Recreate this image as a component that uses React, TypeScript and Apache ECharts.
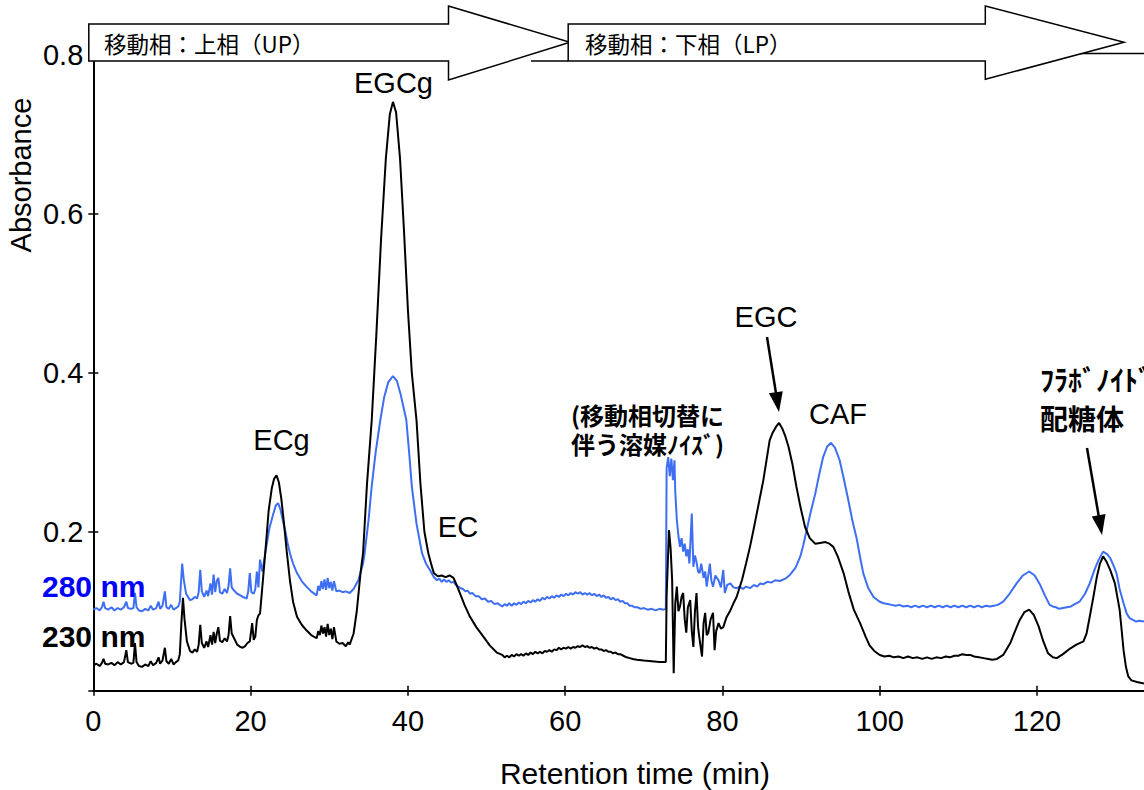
import React, { useEffect, useRef } from "react";
import * as echarts from "echarts";

// Retention time (min) / absorbance pairs
const trace230: [number, number][] = [
  [0.0,0.032],[0.4,0.034],[0.8,0.031],[1.1,0.035],[1.3,0.040],[1.5,0.034],[1.9,0.033],[2.3,0.035],[2.7,0.032],[3.1,0.036],
  [3.5,0.033],[3.9,0.036],[4.2,0.051],[4.4,0.036],[4.8,0.034],[5.1,0.035],[5.3,0.060],[5.5,0.036],[5.8,0.031],[6.2,0.030],
  [6.6,0.033],[7.0,0.031],[7.3,0.037],[7.6,0.032],[8.0,0.035],[8.3,0.042],[8.5,0.034],[8.8,0.038],[9.1,0.054],[9.3,0.037],
  [9.6,0.034],[9.9,0.040],[10.2,0.033],[10.5,0.036],[10.8,0.038],[11.0,0.046],[11.2,0.085],[11.4,0.117],[11.6,0.090],[11.9,0.062],
  [12.3,0.050],[12.6,0.048],[12.9,0.052],[13.2,0.049],[13.4,0.058],[13.6,0.083],[13.8,0.060],[14.1,0.054],[14.4,0.062],[14.6,0.055],
  [14.9,0.070],[15.1,0.058],[15.3,0.074],[15.5,0.060],[15.7,0.072],[15.9,0.080],[16.1,0.063],[16.4,0.061],[16.7,0.066],[17.0,0.062],
  [17.2,0.070],[17.4,0.094],[17.6,0.072],[17.9,0.066],[18.3,0.058],[18.7,0.055],[19.0,0.054],[19.3,0.056],[19.6,0.060],[19.9,0.062],
  [20.2,0.085],[20.4,0.064],[20.6,0.068],[20.8,0.089],[21.0,0.095],[21.2,0.097],[21.6,0.143],[22.0,0.190],[22.3,0.227],[22.7,0.255],
  [23.0,0.267],[23.3,0.271],[23.6,0.262],[23.9,0.242],[24.2,0.215],[24.6,0.175],[25.0,0.139],[25.4,0.112],[25.9,0.093],[26.5,0.083],
  [27.1,0.076],[27.7,0.070],[28.4,0.066],[28.6,0.075],[28.8,0.070],[29.0,0.082],[29.2,0.072],[29.4,0.080],[29.6,0.068],[29.8,0.084],
  [30.0,0.070],[30.2,0.078],[30.4,0.065],[30.6,0.080],[30.9,0.062],[31.3,0.059],[31.7,0.060],[32.1,0.056],[32.4,0.061],[32.6,0.058],
  [33.1,0.072],[33.5,0.100],[34.0,0.150],[34.3,0.173],[34.8,0.260],[35.4,0.340],[36.0,0.450],[36.6,0.570],[37.2,0.670],[37.7,0.725],
  [38.1,0.741],[38.5,0.728],[39.0,0.670],[39.5,0.580],[40.0,0.480],[40.5,0.400],[41.1,0.340],[41.6,0.260],[42.1,0.200],[42.6,0.173],
  [43.0,0.158],[43.3,0.148],[43.8,0.144],[44.3,0.145],[44.8,0.143],[45.3,0.145],[45.8,0.142],[46.2,0.133],[46.6,0.123],[47.2,0.108],
  [47.9,0.093],[48.7,0.080],[49.6,0.068],[50.4,0.057],[51.3,0.048],[52.0,0.045],[52.3,0.042],[52.6,0.044],[52.9,0.042],[53.2,0.045],
  [53.5,0.043],[53.8,0.046],[54.1,0.044],[54.4,0.046],[54.7,0.044],[55.0,0.047],[55.3,0.045],[55.6,0.048],[55.9,0.046],[56.2,0.049],
  [56.5,0.047],[56.8,0.049],[57.1,0.047],[57.4,0.050],[57.7,0.049],[58.0,0.051],[58.3,0.049],[58.6,0.052],[58.9,0.051],[59.2,0.054],
  [59.5,0.052],[59.8,0.054],[60.1,0.053],[60.4,0.055],[60.7,0.053],[61.0,0.055],[61.3,0.054],[61.6,0.056],[61.9,0.055],[62.2,0.057],
  [62.5,0.055],[62.8,0.056],[63.1,0.054],[63.4,0.055],[63.7,0.053],[64.0,0.054],[64.3,0.052],[64.6,0.052],[64.9,0.050],[65.2,0.051],
  [65.5,0.049],[65.8,0.049],[66.1,0.047],[66.4,0.048],[66.7,0.046],[67.0,0.046],[67.4,0.044],[67.8,0.042],[68.2,0.041],[68.6,0.040],
  [69.1,0.039],[70.0,0.038],[71.0,0.037],[72.0,0.036],[72.8,0.036],[72.9,0.120],
  [73.2,0.202],[73.4,0.180],[73.6,0.140],[73.8,0.022],[74.0,0.110],[74.2,0.131],[74.4,0.100],[74.6,0.106],[74.8,0.118],[75.0,0.123],
  [75.2,0.090],[75.4,0.073],[75.6,0.105],[75.9,0.114],[76.1,0.075],[76.3,0.055],[76.5,0.100],[76.7,0.123],[76.9,0.080],[77.1,0.064],
  [77.4,0.043],[77.6,0.085],[77.8,0.098],[78.0,0.070],[78.2,0.073],[78.5,0.090],[78.8,0.098],[79.0,0.051],[79.2,0.075],[79.5,0.085],
  [79.8,0.078],[80.1,0.080],[80.5,0.092],[81.0,0.101],[81.4,0.110],[81.8,0.118],[82.5,0.140],[83.0,0.160],[83.5,0.181],[84.0,0.205],
  [84.6,0.235],[85.2,0.265],[85.6,0.290],[86.0,0.315],[86.4,0.325],[86.8,0.332],[87.2,0.337],[87.6,0.330],[88.0,0.320],[88.4,0.307],
  [88.9,0.285],[89.4,0.257],[89.9,0.232],[90.5,0.206],[91.1,0.192],[91.8,0.185],[92.4,0.186],[93.1,0.187],[93.6,0.185],[94.1,0.181],
  [94.7,0.168],[95.4,0.148],[96.0,0.125],[96.7,0.102],[97.5,0.085],[98.2,0.068],[98.7,0.057],[99.3,0.050],[100.0,0.045],[100.6,0.043],
  [101.2,0.044],[101.8,0.042],[102.4,0.043],[103.0,0.041],[103.6,0.043],[104.2,0.041],[104.8,0.042],[105.4,0.040],[106.0,0.042],[106.6,0.040],
  [107.2,0.042],[107.8,0.041],[108.4,0.043],[108.9,0.042],[109.5,0.044],[110.0,0.044],[110.5,0.046],[111.0,0.045],[111.5,0.045],[112.0,0.043],
  [112.6,0.042],[113.2,0.041],[113.8,0.040],[114.3,0.039],[114.9,0.040],[115.7,0.045],[116.6,0.060],[117.2,0.075],[117.8,0.089],[118.4,0.099],
  [119.0,0.102],[119.6,0.095],[120.2,0.081],[120.8,0.062],[121.4,0.047],[122.0,0.042],[122.5,0.041],[123.3,0.046],[124.2,0.053],[125.0,0.058],
  [125.9,0.062],[126.3,0.072],[126.7,0.093],[127.2,0.120],[127.6,0.143],[128.0,0.160],[128.4,0.169],[128.8,0.163],[129.3,0.152],[129.9,0.135],
  [130.5,0.102],[130.8,0.072],[131.0,0.051],[131.3,0.030],[131.6,0.018],[132.0,0.013],[132.7,0.011],[133.6,0.009]
];

const trace280: [number, number][] = [
  [0.0,0.102],[0.4,0.104],[0.8,0.101],[1.1,0.105],[1.3,0.112],[1.5,0.104],[1.9,0.102],[2.3,0.105],[2.7,0.101],[3.1,0.104],
  [3.5,0.102],[3.9,0.105],[4.2,0.112],[4.4,0.104],[4.8,0.103],[5.1,0.104],[5.3,0.123],[5.5,0.105],[5.8,0.101],[6.2,0.100],
  [6.6,0.103],[7.0,0.101],[7.3,0.107],[7.6,0.102],[8.0,0.104],[8.3,0.112],[8.5,0.103],[8.8,0.107],[9.1,0.125],[9.3,0.105],
  [9.6,0.103],[9.9,0.108],[10.2,0.102],[10.5,0.104],[10.8,0.106],[11.0,0.112],[11.3,0.160],[11.5,0.140],[11.8,0.122],[12.3,0.114],
  [12.6,0.115],[12.9,0.118],[13.2,0.116],[13.4,0.124],[13.6,0.152],[13.8,0.125],[14.1,0.118],[14.4,0.126],[14.6,0.119],[14.9,0.135],
  [15.1,0.121],[15.3,0.146],[15.5,0.124],[15.7,0.138],[15.9,0.142],[16.1,0.124],[16.4,0.122],[16.7,0.128],[17.0,0.123],[17.2,0.132],
  [17.4,0.154],[17.6,0.130],[17.9,0.126],[18.3,0.122],[18.7,0.120],[19.0,0.118],[19.3,0.117],[19.5,0.116],[19.7,0.125],[19.9,0.148],
  [20.1,0.124],[20.4,0.122],[20.6,0.128],[20.8,0.150],[21.0,0.130],[21.2,0.165],[21.5,0.150],[22.0,0.181],[22.4,0.205],[22.9,0.223],
  [23.2,0.233],[23.5,0.236],[23.8,0.228],[24.1,0.214],[24.4,0.202],[24.7,0.186],[25.0,0.173],[25.4,0.160],[25.9,0.148],[26.5,0.138],
  [27.1,0.131],[27.7,0.125],[28.4,0.120],[28.6,0.132],[28.8,0.126],[29.0,0.138],[29.2,0.128],[29.4,0.140],[29.6,0.127],[29.8,0.142],
  [30.0,0.129],[30.2,0.137],[30.4,0.126],[30.6,0.138],[30.9,0.125],[31.3,0.126],[31.7,0.124],[32.1,0.125],[32.6,0.123],[33.1,0.128],
  [33.7,0.139],[34.3,0.160],[34.5,0.173],[35.0,0.215],[35.4,0.257],[35.9,0.300],[36.5,0.341],[37.0,0.370],[37.5,0.388],[38.1,0.396],
  [38.6,0.390],[39.1,0.372],[39.8,0.341],[40.2,0.295],[40.5,0.257],[41.1,0.210],[41.8,0.173],[42.3,0.160],[42.8,0.152],[43.3,0.143],
  [43.7,0.139],[44.0,0.141],[44.3,0.137],[44.6,0.140],[44.9,0.137],[45.2,0.139],[45.5,0.136],[45.8,0.137],[46.1,0.133],[46.4,0.131],
  [46.7,0.129],[47.0,0.128],[47.3,0.125],[47.6,0.126],[47.9,0.122],[48.2,0.123],[48.6,0.119],[49.0,0.119],[49.4,0.115],[49.8,0.116],
  [50.2,0.112],[50.6,0.113],[51.0,0.109],[51.4,0.110],[51.7,0.108],[52.0,0.106],[52.3,0.109],[52.6,0.107],[52.9,0.110],[53.2,0.107],
  [53.5,0.110],[53.8,0.108],[54.1,0.111],[54.4,0.109],[54.7,0.112],[55.0,0.110],[55.3,0.113],[55.6,0.111],[55.9,0.114],[56.2,0.112],
  [56.5,0.115],[56.8,0.113],[57.1,0.117],[57.4,0.115],[57.7,0.118],[58.0,0.116],[58.3,0.119],[58.6,0.117],[58.9,0.120],[59.2,0.118],
  [59.5,0.121],[59.8,0.119],[60.1,0.122],[60.4,0.120],[60.7,0.123],[61.0,0.121],[61.3,0.124],[61.6,0.122],[61.9,0.124],[62.2,0.121],
  [62.5,0.123],[62.8,0.121],[63.1,0.123],[63.4,0.120],[63.7,0.122],[64.0,0.119],[64.3,0.121],[64.6,0.118],[64.9,0.120],[65.2,0.117],
  [65.5,0.118],[65.8,0.115],[66.1,0.117],[66.4,0.114],[66.7,0.115],[67.0,0.112],[67.3,0.113],[67.6,0.110],[67.9,0.110],[68.2,0.107],
  [68.5,0.107],[68.8,0.105],[69.2,0.105],[69.6,0.103],[70.0,0.104],[70.5,0.102],[71.0,0.103],[71.5,0.101],[72.0,0.103],[72.5,0.102],
  [72.8,0.103],[72.9,0.280],[73.1,0.294],[73.3,0.270],[73.5,0.292],[73.7,0.265],[73.9,0.290],[74.0,0.250],[74.2,0.215],[74.4,0.195],
  [74.6,0.181],[74.8,0.192],[75.0,0.175],[75.2,0.185],[75.4,0.169],[75.6,0.178],[75.8,0.160],[76.1,0.223],[76.3,0.156],[76.5,0.170],
  [76.7,0.162],[76.9,0.150],[77.1,0.148],[77.3,0.160],[77.6,0.142],[77.8,0.150],[78.0,0.131],[78.4,0.160],[78.6,0.138],[78.8,0.131],
  [79.1,0.145],[79.5,0.139],[79.8,0.130],[80.1,0.152],[80.3,0.123],[80.6,0.133],[81.0,0.135],[81.4,0.130],[81.8,0.129],[82.2,0.131],
  [82.6,0.128],[83.0,0.131],[83.5,0.129],[84.0,0.133],[84.4,0.131],[84.8,0.135],[85.2,0.134],[85.7,0.137],[86.2,0.136],[86.7,0.139],
  [87.3,0.138],[88.0,0.141],[88.6,0.146],[89.3,0.155],[89.9,0.169],[90.3,0.184],[90.7,0.202],[91.2,0.224],[91.8,0.248],[92.3,0.272],
  [92.8,0.294],[93.3,0.307],[93.8,0.312],[94.3,0.306],[94.9,0.290],[95.4,0.268],[96.0,0.240],[96.5,0.215],[97.1,0.190],[97.5,0.168],
  [97.9,0.148],[98.5,0.130],[99.2,0.118],[100.0,0.112],[100.5,0.110],[101.0,0.109],[101.5,0.108],[102.0,0.107],[102.5,0.108],[103.0,0.106],
  [103.5,0.107],[104.0,0.105],[104.5,0.107],[105.0,0.105],[105.5,0.107],[106.0,0.105],[106.5,0.107],[107.0,0.105],[107.5,0.107],[108.0,0.105],
  [108.5,0.107],[109.0,0.105],[109.5,0.107],[110.0,0.105],[110.5,0.107],[111.0,0.105],[111.5,0.107],[112.0,0.105],[112.5,0.107],[113.0,0.105],
  [113.5,0.107],[114.0,0.106],[114.5,0.107],[115.0,0.108],[115.7,0.112],[116.5,0.122],[117.4,0.135],[118.2,0.145],[119.0,0.150],[119.7,0.145],
  [120.3,0.135],[121.0,0.120],[121.6,0.108],[122.0,0.106],[122.4,0.105],[122.8,0.103],[123.3,0.104],[123.8,0.105],[124.3,0.106],[124.8,0.109],
  [125.4,0.112],[126.1,0.122],[126.7,0.135],[127.3,0.152],[127.8,0.164],[128.4,0.175],[128.9,0.172],[129.3,0.167],[129.7,0.158],[130.1,0.148],
  [130.5,0.128],[131.0,0.110],[131.4,0.097],[131.8,0.091],[132.2,0.089],[132.6,0.087],[133.0,0.088],[133.6,0.087]
];

const xTickValues = [0, 20, 40, 60, 80, 100, 120];
const yTickValues = [0, 0.2, 0.4, 0.6, 0.8];
const yLabelValues = [0.2, 0.4, 0.6, 0.8];
const seriesNames = ["280 nm", "230 nm"];
const peakLabels = ["EGCg", "ECg", "EC", "EGC", "CAF"];

const LATIN = "'Liberation Sans', Arial, sans-serif";
const CJK = "'Noto Sans CJK JP', sans-serif";

export default function App() {
  const ref = useRef<HTMLDivElement>(null);
  useEffect(() => {
    if (!ref.current) return;
    const chart = echarts.init(ref.current, null, { renderer: "svg" });

    const axisCommonX = {
      type: "value",
      min: 0,
      max: 133.6,
      interval: 20,
      position: "bottom",
      splitLine: { show: false },
    };
    const axisCommonY = {
      type: "value",
      min: 0,
      max: 0.8,
      interval: 0.2,
      position: "left",
      splitLine: { show: false },
    };
    const tickStyle = { color: "#000", width: 1.5 };

    const txt = (text: string, x: number, y: number, font: string, align = "center", fill = "#000", extra: any = {}, lineHeight?: number) => ({
      type: "text",
      x,
      y,
      z: 110,
      ...extra,
      style: { text, font, fill, textAlign: align, textVerticalAlign: "middle", ...(lineHeight ? { lineHeight } : {}) },
    });

    const blockArrow = (pts: number[][]) => ({
      type: "polygon",
      z: 100,
      shape: { points: pts },
      style: { fill: "#fff", stroke: "#000", lineWidth: 1.5 },
    });

    const annotArrow = (x1: number, y1: number, x2: number, y2: number) => {
      const dx = x2 - x1, dy = y2 - y1;
      const len = Math.sqrt(dx * dx + dy * dy);
      const ux = dx / len, uy = dy / len;
      const bx = x2 - 20 * ux, by = y2 - 20 * uy;
      const px = -uy * 7, py = ux * 7;
      return [
        { type: "line", z: 110, shape: { x1, y1, x2: bx + ux * 3, y2: by + uy * 3 }, style: { stroke: "#000", lineWidth: 2.5 } },
        { type: "polygon", z: 110, shape: { points: [[x2, y2], [bx + px, by + py], [bx - px, by - py]] }, style: { fill: "#000" } },
      ];
    };

    const option: any = {
      animation: false,
      backgroundColor: "#fff",
      grid: { left: 93.3, right: 0, top: 55, bottom: 99.3 },
      xAxis: [
        {
          ...axisCommonX,
          axisLine: { lineStyle: { color: "#000", width: 2 } },
          axisTick: { show: true, length: 5, lineStyle: tickStyle, customValues: xTickValues },
          axisLabel: { customValues: xTickValues, color: "#000", fontSize: 29, fontFamily: LATIN, margin: 16 },
        },
        {
          ...axisCommonX,
          axisLine: { show: false },
          axisTick: { show: true, inside: true, length: 5, lineStyle: tickStyle, customValues: xTickValues },
          axisLabel: { show: false },
        },
      ],
      yAxis: [
        {
          ...axisCommonY,
          axisLine: { lineStyle: { color: "#000", width: 2 } },
          axisTick: { show: true, length: 5, lineStyle: tickStyle, customValues: yTickValues },
          axisLabel: {
            customValues: yLabelValues,
            color: "#000",
            fontSize: 29,
            fontFamily: LATIN,
            margin: 10,
            formatter: (v: number) => (v === 0 ? "" : v.toFixed(1)),
          },
        },
        {
          ...axisCommonY,
          axisLine: { show: false },
          axisTick: { show: true, inside: true, length: 5, lineStyle: tickStyle, customValues: yTickValues },
          axisLabel: { show: false },
        },
      ],
      series: [
        {
          name: seriesNames[0],
          type: "line",
          data: trace280,
          showSymbol: false,
          symbol: "none",
          lineStyle: { color: "#3e6ef2", width: 2 },
          z: 2,
        },
        {
          name: seriesNames[1],
          type: "line",
          data: trace230,
          showSymbol: false,
          symbol: "none",
          lineStyle: { color: "#000", width: 2 },
          z: 3,
        },
      ],
      graphic: [
        { type: "line", z: 99, shape: { x1: 531, y1: 61, x2: 568, y2: 61 }, style: { stroke: "#000", lineWidth: 1.5 } },
        { type: "line", z: 99, shape: { x1: 1080, y1: 53.5, x2: 1144, y2: 53.5 }, style: { stroke: "#000", lineWidth: 1.5 } },
        blockArrow([[88.8, 24], [448.5, 24], [448.5, 6], [570, 42.3], [448.5, 80], [448.5, 61], [88.8, 61]]),
        blockArrow([[568.2, 24], [985.3, 24], [985.3, 6], [1124, 42.3], [985.3, 79.3], [985.3, 61], [568.2, 61]]),
        txt("移動相：上相（UP）", 104, 43, `22.5px ${CJK}`, "left"),
        txt("移動相：下相（LP）", 585, 43, `22.5px ${CJK}`, "left"),
        txt(peakLabels[0], 393.5, 83, `29px ${LATIN}`),
        txt(peakLabels[1], 281.5, 440, `29px ${LATIN}`),
        txt(peakLabels[2], 458, 527, `29px ${LATIN}`),
        txt(peakLabels[3], 766, 317, `29px ${LATIN}`),
        txt(peakLabels[4], 838, 414, `29px ${LATIN}`),
        txt("(移動相切替に\n伴う溶媒ﾉｲｽﾞ)", 724, 428.5, `bold 24px ${CJK}`, "right", "#000", {}, 29),
        txt("ﾌﾗﾎﾞﾉｲﾄﾞ\n配糖体", 1040, 398.5, `bold 28px ${CJK}`, "left", "#000", {}, 39),
        txt(seriesNames[0], 42, 586, `bold 30px ${LATIN}`, "left", "#0000ff"),
        txt(seriesNames[1], 42, 636, `bold 30px ${LATIN}`, "left", "#000"),
        txt("Absorbance", 20.5, 175, `29px ${LATIN}`, "center", "#000", { rotation: Math.PI / 2 }),
        txt("Retention time (min)", 635, 773, `30px ${LATIN}`),
        ...annotArrow(767, 337, 779, 412),
        ...annotArrow(1087, 448, 1102, 535),
      ],
    };
    chart.setOption(option);
    return () => chart.dispose();
  }, []);
  return (
    <div
      ref={ref}
      style={{ position: "fixed", left: 0, top: 0, width: 1144, height: 790, background: "#fff" }}
    />
  );
}
